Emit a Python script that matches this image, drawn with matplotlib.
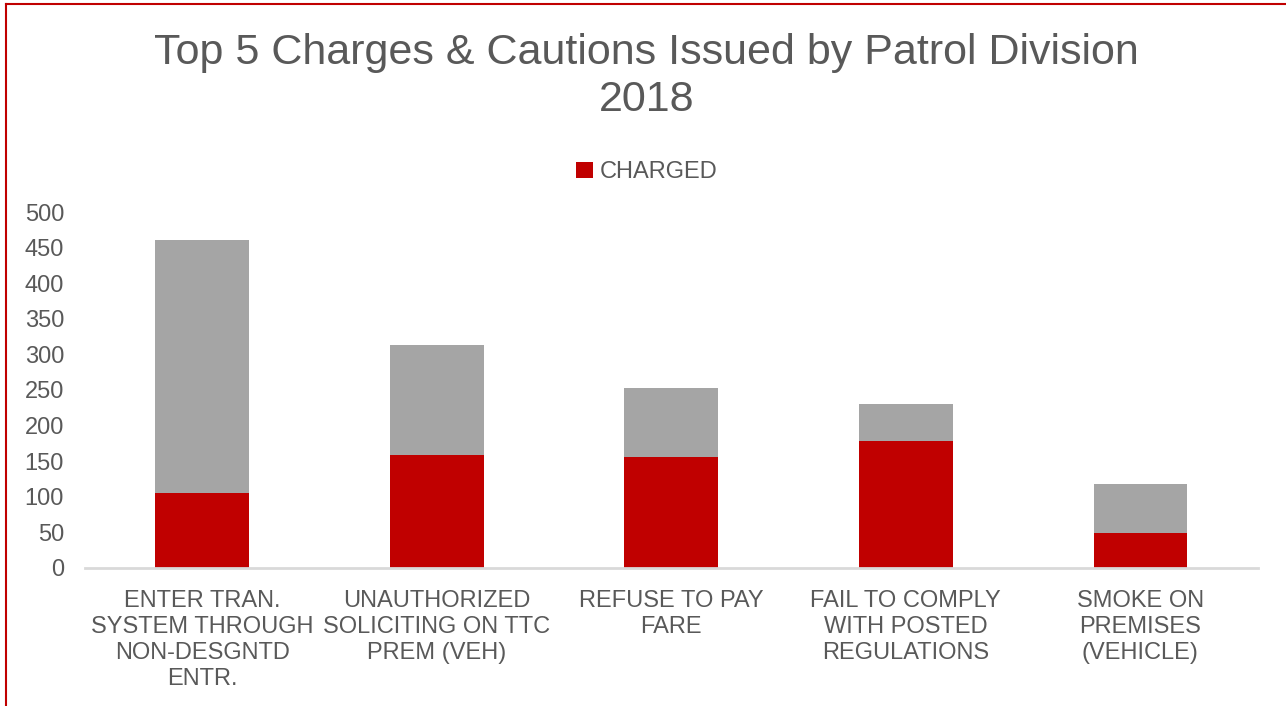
import matplotlib
matplotlib.use("Agg")
from matplotlib import pyplot as plt
from matplotlib.lines import Line2D
import numpy as np

plt.rcParams['font.family'] = ['Liberation Sans', 'DejaVu Sans']

categories = ["ENTER TRAN.\nSYSTEM THROUGH\nNON-DESGNTD\nENTR.",
              "UNAUTHORIZED\nSOLICITING ON TTC\nPREM (VEH)",
              "REFUSE TO PAY\nFARE",
              "FAIL TO COMPLY\nWITH POSTED\nREGULATIONS",
              "SMOKE ON\nPREMISES\n(VEHICLE)"]
charged = [105, 159, 156, 178, 49]
cautioned = [356, 154, 97, 52, 69]

text_color = "#595959"
red = "#C00000"
grey = "#A5A5A5"

fig = plt.figure(figsize=(12.86, 7.06), dpi=100)
ax = fig.add_axes([0.066, 0.1955, 0.912, 0.5042])

x = np.arange(len(categories))
ax.bar(x, charged, width=0.4, color=red, label="CHARGED")
ax.bar(x, cautioned, width=0.4, bottom=charged, color=grey, label="_cautioned")

ax.set_xlim(-0.5, len(categories) - 0.5)
ax.set_ylim(0, 500)
ax.set_yticks(range(0, 501, 50))
ax.set_xticks(x)
ax.set_xticklabels(categories, fontsize=17, color=text_color, linespacing=1.23)
ax.tick_params(axis='y', labelsize=17, labelcolor=text_color, length=0, pad=15)
ax.tick_params(axis='x', length=0, pad=16)

for s in ["top", "right", "left"]:
    ax.spines[s].set_visible(False)
ax.spines["bottom"].set_color("#D9D9D9")
ax.spines["bottom"].set_linewidth(2)

fig.text(0.503, 0.892, "Top 5 Charges & Cautions Issued by Patrol Division\n2018",
         ha="center", va="center", fontsize=31, color=text_color, linespacing=1.22)

ax.legend(loc="center", bbox_to_anchor=(0.503, 0.756), bbox_transform=fig.transFigure,
          frameon=False, fontsize=17, labelcolor=text_color, handlelength=0.7,
          handleheight=0.7, handletextpad=0.3)

# red border at top and left edges
fig.add_artist(Line2D([0.0047, 0.0047], [0, 0.9943], color=red, lw=1.5, transform=fig.transFigure))
fig.add_artist(Line2D([0.0047, 1], [0.9943, 0.9943], color=red, lw=1.5, transform=fig.transFigure))

plt.savefig("out.png", dpi=100)
